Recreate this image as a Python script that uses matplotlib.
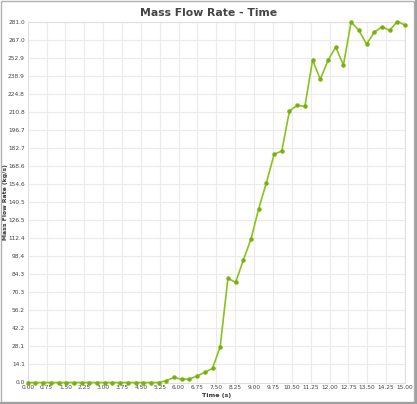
import numpy as np
import matplotlib
matplotlib.use("Agg")
import matplotlib.pyplot as plt
from matplotlib.patches import Rectangle

# time axis: 50 samples from 0 to 15 s
time_s = np.linspace(0, 15, 50)
mass_flow = [0.0] * 18 + [
    1.4, 4.0, 2.5, 2.7, 5.1, 7.9, 11.0, 27.9,
    81.0, 78.0, 95.1, 111.7, 135.3, 155.5, 177.6, 180.2,
    211.5, 215.7, 214.9, 251.0, 236.0, 250.7, 261.1, 247.1,
    280.5, 274.3, 263.4, 272.5, 276.9, 274.1, 281.0, 278.2,
]

x_ticks = np.arange(0, 15.01, 0.75)
x_labels = ["%.2f" % v for v in x_ticks]
y_ticks = np.linspace(0, 281.0, 21)
y_labels = ["0.0", "14.1", "28.1", "42.2", "56.2", "70.3", "84.3", "98.4",
            "112.4", "126.5", "140.5", "154.6", "168.6", "182.7", "196.7",
            "210.8", "224.8", "238.9", "252.9", "267.0", "281.0"]

fig = plt.figure(figsize=(4.17, 4.04), dpi=100)
W, H = 417, 404
ax = fig.add_axes([27.7 / W, 1 - 382.5 / H, (405 - 27.7) / W, (382.5 - 21.5) / H])

ax.plot(time_s, mass_flow, color="#8cc21e", lw=1.2, marker="o", ms=2.2,
        markerfacecolor="#78b00e", markeredgecolor="#78b00e", clip_on=False, zorder=3)

ax.set_xlim(0, 15)
ax.set_ylim(0, 281.0)
ax.set_xticks(x_ticks)
ax.set_xticklabels(x_labels)
ax.set_yticks(y_ticks)
ax.set_yticklabels(y_labels)
ax.tick_params(axis="both", length=0, labelsize=4.2, colors="#444444", pad=2)
ax.grid(True, color="#ebebeb", lw=0.8)
ax.set_axisbelow(True)
for s in ax.spines.values():
    s.set_color("#e0e0e0")
    s.set_linewidth(0.8)

ax.set_xlabel("Time (s)", fontsize=4.6, fontweight="bold", color="#333333", labelpad=2)
ax.set_ylabel("Mass Flow Rate (kg/s)", fontsize=4.4, fontweight="bold", color="#333333")
ax.yaxis.set_label_coords(-(27.7 - 8) / (405 - 27.7), 0.5)
fig.text(0.5, 1 - 13 / H, "Mass Flow Rate - Time", ha="center", va="center",
         fontsize=7.8, fontweight="bold", color="#444444")

# outer frame with shadow on right/bottom
fig.patches.append(Rectangle((0.5 / W, 2.5 / H), (W - 3.5) / W, (H - 3.5) / H,
                             transform=fig.transFigure, fill=False,
                             edgecolor="#b0b0b0", lw=1.0))
fig.patches.append(Rectangle(((W - 2.5) / W, 0), 2.5 / W, 1,
                             transform=fig.transFigure, color="#a0a0a0", lw=0))
fig.patches.append(Rectangle((0, 0), 1, 2.5 / H,
                             transform=fig.transFigure, color="#a0a0a0", lw=0))

fig.savefig("out.png", dpi=100)
